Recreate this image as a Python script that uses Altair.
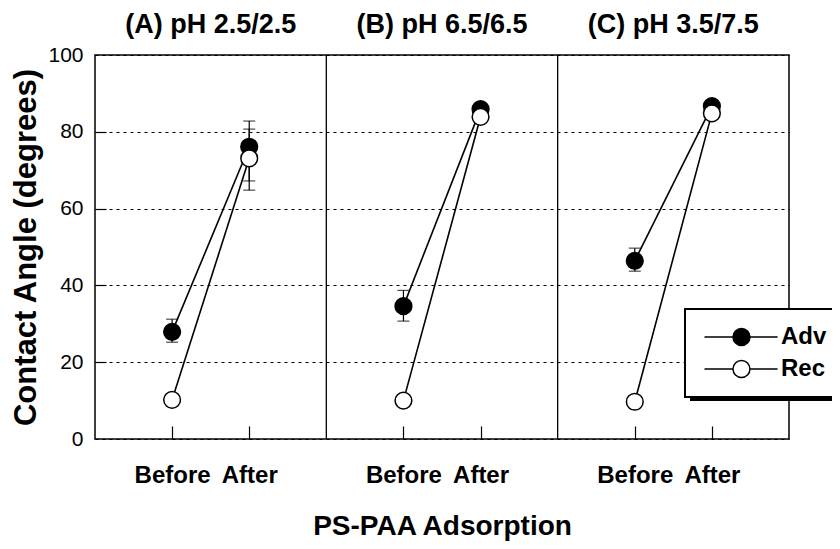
import altair as alt
import pandas as pd

# ---- data ----
panels = ["(A) pH 2.5/2.5", "(B) pH 6.5/6.5", "(C) pH 3.5/7.5"]
stages = ["Before", "After"]
series = ["Adv", "Rec"]

# values ordered: panel A before/after, panel B before/after, panel C before/after
adv_mean = [27.9, 76.1, 34.6, 85.9, 46.4, 86.7]
rec_mean = [10.2, 73.1, 10.0, 83.9, 9.7, 84.8]
adv_lo = [25.2, 67.2, 30.7, None, 43.7, None]
adv_hi = [31.2, 82.8, 38.7, None, 49.7, None]
rec_lo = [None, 64.8, None, None, None, None]
rec_hi = [None, 80.7, None, None, None, None]

y_ticks = [0, 20, 40, 60, 80, 100]

# ---- build tables ----
rows = []
for name, means, los, his in zip(series, [adv_mean, rec_mean], [adv_lo, rec_lo], [adv_hi, rec_hi]):
    for pi, pname in enumerate(panels):
        for si, sname in enumerate(stages):
            k = pi * 2 + si
            rows.append(dict(series=name, panel=pname, stage=sname,
                             pos=pi * 3 + 1 + si, value=means[k],
                             lo=los[k], hi=his[k]))
df = pd.DataFrame(rows)
err = df.dropna(subset=["lo"])
sep = pd.DataFrame({"pos": [3 * (i + 1) for i in range(len(panels) - 1)]})
ttl = pd.DataFrame({"panel": panels, "pos": [3 * i + 1.5 for i in range(len(panels))]})
tick_pos = [3 * p + 1 + s for p in range(len(panels)) for s in range(len(stages))]

FONT = "Liberation Sans"
xscale = alt.Scale(domain=[0, 3 * len(panels)], nice=False, zero=False)
yscale = alt.Scale(domain=[0, 100], nice=False, zero=False)

label_expr = f"(datum.value % 3) == 1 ? '{stages[0]}' : '{stages[1]}'"

# legend symbol: line with a circle in the middle
LEG_PATH = "M-1,0L2.35,0M4.35,0L7.6,0M2.35,0A1,1,0,1,1,4.35,0A1,1,0,1,1,2.35,0Z"

shadow = alt.Chart(pd.DataFrame({"a": [0]})).mark_rect(color="black").encode(
    x=alt.value(595), x2=alt.value(762), y=alt.value(334), y2=alt.value(346)
)

separators = alt.Chart(sep).mark_rule(color="black", strokeWidth=1.3).encode(
    x=alt.X("pos:Q", scale=xscale,
            axis=alt.Axis(values=tick_pos, labelExpr=label_expr, ticks=False, tickSize=0,
                          domain=False, grid=False, labelFontSize=24, labelFontWeight="bold",
                          labelColor="black", labelBaseline="alphabetic", labelPadding=43,
                          labelOverlap=False, labelFlush=False,
                          title="PS-PAA Adsorption", titleFontSize=28, titleFontWeight="bold",
                          titleColor="black", titleX=347, titleY=95,
                          titleBaseline="alphabetic", titleAlign="center"))
)

errbars = alt.Chart(err).mark_rule(color="black", strokeWidth=1.2).encode(
    x=alt.X("pos:Q", scale=xscale,
            axis=alt.Axis(orient="bottom", offset=-13, tickSize=13, ticks=True, labels=False,
                          domain=False, grid=False, values=tick_pos, title=None,
                          tickColor="black", tickWidth=1.2)),
    y=alt.Y("lo:Q", scale=yscale,
            axis=alt.Axis(values=y_ticks, grid=True, gridDash=[3, 4], gridColor="black",
                          gridWidth=1, gridOpacity=1, ticks=False, tickSize=0, domain=False,
                          labelFontSize=21, labelPadding=12, labelColor="black",
                          title="Contact Angle (degrees)", titleFontSize=31,
                          titleFontWeight="bold", titleColor="black", titleX=-60, titleY=192,
                          titleBaseline="alphabetic", titleAlign="center", titleAngle=270)),
    y2="hi:Q",
)

cap_lo = alt.Chart(err).mark_tick(color="black", size=12, thickness=1.2, orient="horizontal").encode(
    x=alt.X("pos:Q", scale=xscale, axis=None),
    y=alt.Y("lo:Q", scale=yscale, axis=None),
)
cap_hi = alt.Chart(err).mark_tick(color="black", size=12, thickness=1.2, orient="horizontal").encode(
    x=alt.X("pos:Q", scale=xscale, axis=None),
    y=alt.Y("hi:Q", scale=yscale, axis=None),
)

lines = alt.Chart(df).mark_line(color="black", strokeWidth=1.6).encode(
    x=alt.X("pos:Q", scale=xscale, axis=None),
    y=alt.Y("value:Q", scale=yscale,
            axis=alt.Axis(orient="left", offset=-11, tickSize=11, ticks=True, labels=False,
                          domain=False, grid=False, values=[20, 40, 60, 80], title=None,
                          tickColor="black", tickWidth=1.2)),
    detail=["series:N", "panel:N"],
)

points = alt.Chart(df).mark_point(filled=True, stroke="black", strokeWidth=1.5,
                                  size=280, opacity=1).encode(
    x=alt.X("pos:Q", scale=xscale, axis=None),
    y=alt.Y("value:Q", scale=yscale, axis=None),
    fill=alt.Fill("series:N", scale=alt.Scale(domain=series, range=["black", "white"]),
                  legend=alt.Legend(title=None, orient="none", legendX=590, legendY=254,
                                    symbolType=LEG_PATH, symbolSize=289,
                                    symbolStrokeColor="black", symbolStrokeWidth=1.5,
                                    labelFontSize=24, labelFontWeight="bold", labelColor="black",
                                    labelOffset=56, padding=16, rowPadding=8,
                                    strokeColor="black", fillColor="white")),
)

titles = alt.Chart(ttl).mark_text(fontSize=27, fontWeight="bold", color="black",
                                  baseline="alphabetic", align="center").encode(
    x=alt.X("pos:Q", scale=xscale, axis=None),
    y=alt.value(-22),
    text="panel:N",
)

chart = alt.layer(shadow, separators, errbars, cap_lo, cap_hi, lines, points, titles).resolve_axis(
    x="independent", y="independent"
).properties(
    width=694, height=384,
    autosize=alt.AutoSizeParams(type="none"),
    padding={"left": 87, "top": 47, "right": 43, "bottom": 102},
).configure(font=FONT).configure_view(stroke="black", strokeWidth=1.5).configure_legend(strokeWidth=2)

chart.save("out.html", embed_options={"renderer": "svg", "actions": False})
